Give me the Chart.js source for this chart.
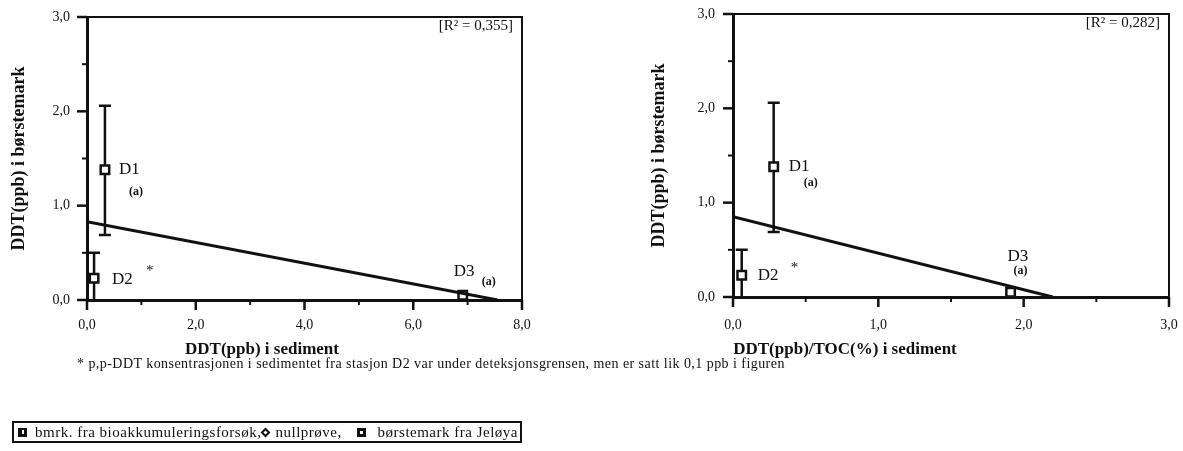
<!DOCTYPE html>
<html>
<head>
<meta charset="utf-8">
<script src="https://cdn.jsdelivr.net/npm/chart.js@4.4.1/dist/chart.umd.min.js"></script>
<style>
  body { margin: 0; background: #fff; }
  #wrap { position: relative; width: 1183px; height: 451px; overflow: hidden; font-family: "Liberation Serif", serif; color: #111; }
  canvas { position: absolute; left: 0; top: 0; }
  .xtitle { position: absolute; top: 349px; transform: translate(-50%, -50%); font-weight: bold; font-size: 17px; white-space: nowrap; }
  #note { position: absolute; left: 77px; top: 364px; transform: translateY(-50%); font-size: 14px; letter-spacing: 0.45px; white-space: nowrap; }
  #legend { position: absolute; left: 12px; top: 421px; width: 500px; height: 18px; border: 2px solid #111;
            display: flex; align-items: center; font-size: 15px; letter-spacing: 0.5px; white-space: nowrap;
            padding: 0 2px 0 4px; box-sizing: content-box; }
  .ico { display: inline-block; flex: none; width: 9px; height: 9px; background: #111; position: relative; margin-right: 8px; }
  .ico.sq::after { content: ""; position: absolute; left: 4px; top: 2px; width: 2px; height: 4px; background: #fff; }
  .ico.dot::after { content: ""; position: absolute; left: 3px; top: 3px; width: 3px; height: 3px; background: #fff; }
  .ico.dia { width: 7px; height: 7px; transform: rotate(45deg); margin: 0 6px 0 1px; }
  .ico.dia::after { content: ""; position: absolute; left: 2px; top: 2px; width: 3px; height: 3px; background: #fff; }
</style>
</head>
<body>
<div id="wrap">
  <canvas id="left" width="1183" height="451"></canvas>
  <canvas id="right" width="1183" height="451"></canvas>
  <div class="xtitle" style="left:262px">DDT(ppb) i sediment</div>
  <div class="xtitle" style="left:845px">DDT(ppb)/TOC(%) i sediment</div>
  <div id="note">* p,p-DDT konsentrasjonen i sedimentet fra stasjon D2 var under deteksjonsgrensen, men er satt lik 0,1 ppb i figuren</div>
  <div id="legend">
    <span class="ico sq"></span><span>bmrk. fra bioakkumuleringsforsøk,</span><span class="ico dia"></span><span>nullprøve,</span><span class="ico dot" style="margin-left:auto;margin-right:12px"></span><span>børstemark fra Jeløya</span>
  </div>
</div>
<script>
const stations = ["D1", "D2", "D3"];
const stationNotes = ["(a)", "*", "(a)"];
const sedimentDDT = [0.33, 0.13, 6.91];
const sedimentDDTperTOC = [0.28, 0.06, 1.91];
const wormDDT = [1.38, 0.23, 0.05];
const wormLow = [0.69, 0, null];
const wormHigh = [2.06, 0.5, null];
const fitSedX = [0, 7.55];
const fitSedY = [0.83, 0];
const fitTocX = [0, 2.2];
const fitTocY = [0.85, 0];
const r2Values = ["0,355", "0,282"];

const ink = "#111";
const serif = "'Liberation Serif', serif";

function comma(v) {
    return v.toFixed(1).replace(".", ",");
}

function isMajor(v, step) {
    return Math.abs(v / step - Math.round(v / step)) < 1e-6;
}

// frame, tick marks, error bars, point labels and R2 text
const decor = {
    id: "decor",
    beforeDatasetsDraw(chart, args, opts) {
        const {ctx, scales: {x, y}} = chart;
        ctx.save();
        ctx.strokeStyle = ink;
        ctx.lineWidth = 2.5;
        opts.xs.forEach((xv, i) => {
            if (wormLow[i] == null) return;
            const px = x.getPixelForValue(xv);
            const lo = y.getPixelForValue(wormLow[i]);
            const hi = y.getPixelForValue(wormHigh[i]);
            ctx.beginPath();
            ctx.moveTo(px, lo); ctx.lineTo(px, hi);
            ctx.moveTo(px - 6, hi); ctx.lineTo(px + 6, hi);
            if (wormLow[i] > 0) { ctx.moveTo(px - 6, lo); ctx.lineTo(px + 6, lo); }
            ctx.stroke();
        });
        ctx.restore();
    },
    afterDraw(chart, args, opts) {
        const {ctx, chartArea: a, scales: {x, y}} = chart;
        ctx.save();
        ctx.strokeStyle = ink;
        ctx.lineWidth = 2;
        ctx.beginPath();
        ctx.moveTo(a.left, a.top); ctx.lineTo(a.right, a.top); ctx.lineTo(a.right, a.bottom + 1);
        ctx.stroke();

        x.ticks.forEach(t => {
            const major = isMajor(t.value, opts.xMajor);
            const p = x.getPixelForValue(t.value);
            ctx.lineWidth = major ? 2.5 : 2;
            ctx.beginPath(); ctx.moveTo(p, a.bottom); ctx.lineTo(p, a.bottom + (major ? 10 : 5)); ctx.stroke();
        });
        y.ticks.forEach(t => {
            const major = isMajor(t.value, 1);
            const p = y.getPixelForValue(t.value);
            ctx.lineWidth = major ? 2.5 : 2;
            ctx.beginPath(); ctx.moveTo(a.left, p); ctx.lineTo(a.left - (major ? 10 : 5), p); ctx.stroke();
        });

        ctx.fillStyle = ink;
        ctx.textBaseline = "middle";
        ctx.textAlign = "left";
        stations.forEach((name, i) => {
            const px = x.getPixelForValue(opts.xs[i]);
            const py = y.getPixelForValue(wormDDT[i]);
            const o = opts.offsets[i];
            ctx.font = "17px " + serif;
            ctx.fillText(name, px + o[0], py + o[1]);
            const note = stationNotes[i];
            ctx.font = note === "*" ? "15px " + serif : "bold 12px " + serif;
            ctx.fillText(note, px + o[2], py + o[3]);
        });

        ctx.font = "15px " + serif;
        ctx.textAlign = "right";
        ctx.fillText("[R\u00b2 = " + opts.r2 + "]", a.right - 9, a.top + 9);
        ctx.restore();
    }
};

function makeChart(id, xs, fitX, fitY, cfg) {
    const pts = xs.map((v, i) => ({x: v, y: wormDDT[i]}));
    return new Chart(document.getElementById(id), {
        type: "scatter",
        data: {
            datasets: [
                {
                    type: "line",
                    data: fitX.map((v, i) => ({x: v, y: fitY[i]})),
                    borderColor: ink,
                    borderWidth: 3,
                    pointRadius: 0,
                    fill: false
                },
                {
                    data: pts,
                    pointStyle: "rect",
                    pointRadius: 6,
                    borderWidth: 2.5,
                    borderColor: ink,
                    backgroundColor: "#fff"
                },
                {
                    data: pts,
                    pointStyle: "rect",
                    pointRadius: 1.3,
                    borderWidth: 0,
                    backgroundColor: ink
                }
            ]
        },
        options: {
            responsive: false,
            animation: false,
            devicePixelRatio: 1,
            layout: {padding: cfg.padding},
            plugins: {
                legend: {display: false},
                tooltip: {enabled: false},
                decor: {xs: xs, offsets: cfg.offsets, r2: cfg.r2, xMajor: cfg.xMajor}
            },
            scales: {
                x: {
                    type: "linear",
                    min: 0,
                    max: cfg.xMax,
                    afterFit: s => { s.height = cfg.xHeight; s.paddingLeft = 0; s.paddingRight = 0; },
                    grid: {drawOnChartArea: false, drawTicks: false},
                    border: {display: true, width: 3, color: ink},
                    ticks: {
                        stepSize: cfg.xStep,
                        autoSkip: false,
                        maxRotation: 0,
                        padding: cfg.xPad,
                        color: ink,
                        font: {family: serif, size: 14},
                        callback: v => isMajor(v, cfg.xMajor) ? comma(v) : ""
                    }
                },
                y: {
                    type: "linear",
                    min: 0,
                    max: 3,
                    afterFit: s => { s.width = 87; s.paddingTop = 0; s.paddingBottom = 0; },
                    grid: {drawOnChartArea: false, drawTicks: false},
                    border: {display: true, width: 3, color: ink},
                    title: {
                        display: true,
                        text: "DDT(ppb) i børstemark",
                        color: ink,
                        font: {family: serif, size: 18, weight: "bold"},
                        padding: {top: cfg.yTitlePad, bottom: 0}
                    },
                    ticks: {
                        stepSize: 0.5,
                        autoSkip: false,
                        padding: cfg.yPad,
                        color: ink,
                        font: {family: serif, size: 14},
                        callback: v => isMajor(v, 1) ? comma(v) : ""
                    }
                }
            }
        },
        plugins: [decor]
    });
}

makeChart("left", sedimentDDT, fitSedX, fitSedY, {
    padding: {left: 0, top: 17, right: 661, bottom: 91},
    xMax: 8, xStep: 1, xMajor: 2, xHeight: 60, xPad: 17, yPad: 17, yTitlePad: 9,
    r2: r2Values[0],
    offsets: [[14, 0, 24, 22], [18, 1, 52, -7], [-9, -24, 19, -13]]
});

makeChart("right", sedimentDDTperTOC, fitTocX, fitTocY, {
    padding: {left: 646, top: 14, right: 14, bottom: 94},
    xMax: 3, xStep: 0.5, xMajor: 1, xHeight: 60, xPad: 20, yPad: 18, yTitlePad: 3,
    r2: r2Values[1],
    offsets: [[15, 0, 30, 16], [16, 0, 49, -7], [-3, -36, 3, -21]]
});
</script>
</body>
</html>
